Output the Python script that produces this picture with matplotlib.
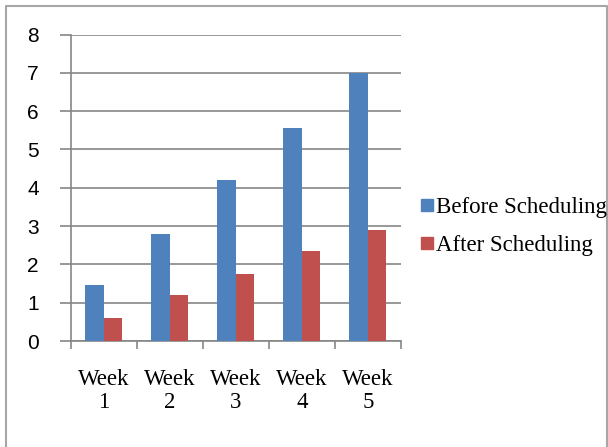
import numpy as np
import matplotlib.pyplot as plt
from matplotlib.lines import Line2D

weeks = ["Week\n1", "Week\n2", "Week\n3", "Week\n4", "Week\n5"]
before = [1.45, 2.8, 4.2, 5.55, 7.0]
after = [0.6, 1.2, 1.75, 2.35, 2.9]
series_names = ["Before Scheduling", "After Scheduling"]

blue = "#4f81bd"
red = "#c0504d"
grey = "#868686"

fig = plt.figure(figsize=(6.08, 4.47), dpi=100)
ax = fig.add_axes([0.1163, 0.2371, 0.5432, 0.6857])

x = np.arange(len(weeks))
w = 0.28
ax.bar(x - w / 2, before, w, color=blue, zorder=3)
ax.bar(x + w / 2, after, w, color=red, zorder=3)

ax.set_xlim(-0.5, len(weeks) - 0.5)
ax.set_ylim(0, 8)
ax.set_yticks(range(0, 9))
ax.yaxis.grid(True, color=grey, linewidth=1.2, zorder=0)

# category ticks sit between the groups, labels stay centred
ax.set_xticks(np.arange(-0.5, len(weeks)), minor=False)
ax.set_xticklabels([])
ax.set_xticks(x, minor=True)
ax.set_xticklabels(weeks, minor=True, fontfamily="Liberation Serif",
                   fontsize=16.5, linespacing=1.15)
ax.tick_params(axis="x", which="minor", length=0, pad=20)
ax.tick_params(axis="x", which="major", length=6, width=1.2, color=grey)
ax.tick_params(axis="y", length=8, width=1.2, color=grey, pad=15,
               labelsize=15)
for lab in ax.get_yticklabels():
    lab.set_fontfamily("Liberation Sans")

for side in ("top", "right"):
    ax.spines[side].set_visible(False)
for side in ("left", "bottom"):
    ax.spines[side].set_color(grey)
    ax.spines[side].set_linewidth(1.2)

handles = [Line2D([], [], marker="s", linestyle="none", markersize=8,
                  color=c) for c in (blue, red)]
fig.legend(handles, series_names, loc="center left",
           bbox_to_anchor=(0.672, 0.494), frameon=False,
           prop={"family": "Liberation Serif", "size": 16.5},
           handlelength=0.6, handletextpad=0.1, labelspacing=0.75,
           borderpad=0)

# outer chart border (open at the bottom)
fig.add_artist(Line2D([6 / 608, 6 / 608, 607 / 608, 607 / 608],
                      [-0.1, 1 - 6 / 447, 1 - 6 / 447, -0.1],
                      transform=fig.transFigure, color="#a6a6a6",
                      linewidth=1.5))

fig.savefig("out.png", dpi=100)
